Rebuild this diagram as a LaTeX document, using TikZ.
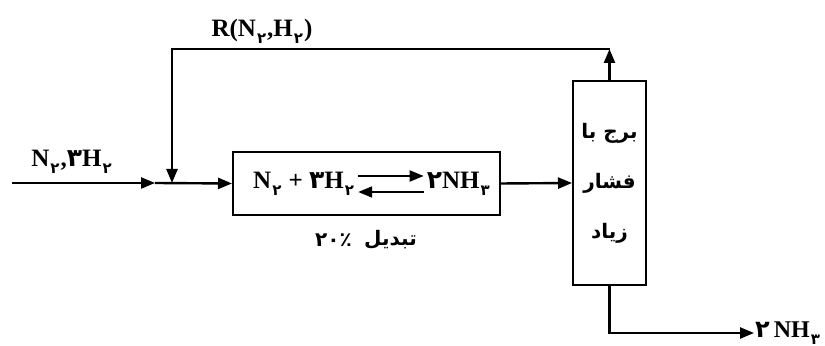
\documentclass[tikz,border=0pt]{standalone}
\usepackage{fontspec}
\setmainfont{Liberation Serif}
\newfontfamily\fa[Script=Arabic]{DejaVu Sans}
\TeXXeTstate=1
\usetikzlibrary{arrows.meta,positioning}
\newcommand{\ind}[1]{\kern0.5pt\raisebox{-0.6ex}{\hbox{\fa\bfseries\fontsize{7.5}{8}\selectfont #1}}\kern0.5pt}
\newcommand{\dg}[1]{\hbox{\fa\bfseries #1}}

\begin{document}
\begin{tikzpicture}[x=0.5pt,y=-0.5pt,line width=1.2pt,>={Triangle[length=7pt,width=5.5pt]},
  blok/.style={rectangle,draw,line width=1pt,inner sep=0pt},
  lbl/.style={font=\bfseries\fontsize{12.5}{14}\selectfont,inner sep=1pt},
  fatext/.style={font=\fa\bfseries\fontsize{10}{12}\selectfont,inner sep=1pt}]
\useasboundingbox (0,0) rectangle (825,346);
\node[blok,minimum width=133.5pt,minimum height=31.5pt] (reattore) at (366.5,183.5) {};
\node[blok,minimum width=36.5pt,minimum height=102pt,align=center,
  font=\fa\bfseries\fontsize{10}{25}\selectfont] (torre) at (609.5,183)
  {\beginR برج با\endR\\\beginR فشار\endR\\\beginR زیاد\endR};

\node[lbl,anchor=west] (sx) at (250,184) {N\ind{۲}\ +\ \dg{۳}H\ind{۲}};
\node[lbl,anchor=east] (dx) at (494,184) {\dg{۲}NH\ind{۳}};
\draw[->,line width=1pt] ([yshift=4pt]sx.east) -- ([yshift=4pt]dx.west);
\draw[->,line width=1pt] ([yshift=-4pt]dx.west) -- ([yshift=-4pt]sx.east);

\node[lbl] (alim) at (72,162) {N\ind{۲},\dg{۳}H\ind{۲}};
\node[lbl] (ricircolo) at (262,31) {R(N\ind{۲},H\ind{۲})};
\node[fatext,anchor=west] (conv) at (361,240) {\beginR تبدیل\endR};
\node[fatext,left=3pt of conv] (perc) {\dg{۲}\dg{۰}\dg{٪}};
\node[lbl,anchor=west,inner sep=0pt,font=\bfseries\fontsize{12}{14}\selectfont] (nh) at (754,333) {\dg{۲}\,NH\ind{۳}};

\coordinate (ingresso) at (12,183);
\coordinate (freccia) at (155,183);
\coordinate (nodo) at (172,183);
\coordinate (cima) at (609.5,49);

\draw[->] (ingresso) -- (freccia);
\draw[->] (freccia) -- (reattore.west);
\draw[->] (reattore.east) -- (torre.west);
\draw[->] (torre.north) -- (cima);
\draw[->] (cima) -| (nodo);
\draw[->] (torre.south) |- (nh.west);
\end{tikzpicture}
\end{document}
